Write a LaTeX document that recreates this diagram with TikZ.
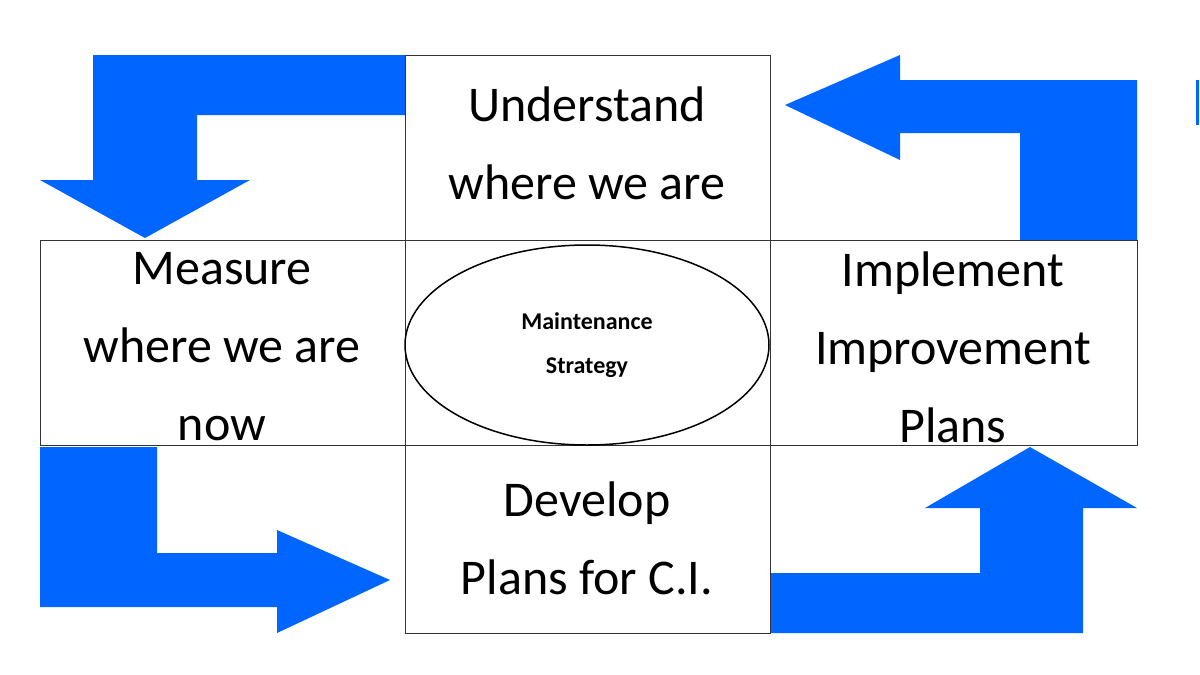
\documentclass[tikz,border=0pt]{standalone}
\usepackage{fontspec}
\setmainfont{Carlito}
\usetikzlibrary{positioning}
\definecolor{arrowblue}{RGB}{0,102,255}
\tikzset{
  cell/.style={draw=black!80,line width=0.8pt,rectangle,inner sep=0pt},
  bigtext/.style={align=center,font=\fontsize{50}{78}\selectfont,inner sep=0pt},
  flow/.style={fill=arrowblue,draw=none}
}
\begin{document}
\begin{tikzpicture}[x=1pt,y=-1pt]
\useasboundingbox[fill=white] (0,0) rectangle (1200,675);
% blue flow arrows
\fill[flow] (405,55) -- (93,55) -- (93,180) -- (40,180) -- (145,238) -- (250,180) -- (197,180) -- (197,115) -- (405,115) -- cycle;
\fill[flow] (1137,240) -- (1137,80) -- (900,80) -- (900,55) -- (785,105) -- (900,160) -- (900,133) -- (1020,133) -- (1020,240) -- cycle;
\fill[flow] (40,447) -- (157,447) -- (157,553) -- (277,553) -- (277,530) -- (390,580) -- (277,633) -- (277,607) -- (40,607) -- cycle;
\fill[flow] (770,633) -- (1083,633) -- (1083,508) -- (1137,508) -- (1030,447) -- (925,508) -- (980,508) -- (980,573) -- (770,573) -- cycle;
\fill[flow] (1196,80) rectangle (1199,125);
% boxes
\node[cell,minimum width=365pt,minimum height=185pt] (top) at (587.5,147.5) {};
\node[cell,minimum width=365pt,minimum height=205pt] (centre) at (587.5,342.5) {};
\node[cell,minimum width=365pt,minimum height=205pt] (left) at (222.5,342.5) {};
\node[cell,minimum width=367pt,minimum height=205pt] (right) at (953.5,342.5) {};
\node[cell,minimum width=365pt,minimum height=188pt] (bottom) at (587.5,539) {};
\draw[line width=1.5pt] (587,345) ellipse (182pt and 100pt);
% labels
\node[bigtext] (toptext) at (587,143) {Understand\\where we are};
\node[bigtext] (lefttext) at (222,347) {Measure\\where we are\\now};
\node[bigtext] (righttext) at (953,347) {Implement\\Improvement\\Plans};
\node[bigtext] (bottomtext) at (587,538) {Develop\\Plans for C.I.};
\node[align=center,font=\bfseries\fontsize{24}{44}\selectfont] (strategy) at (587,345) {Maintenance\\Strategy};
\end{tikzpicture}
\end{document}
